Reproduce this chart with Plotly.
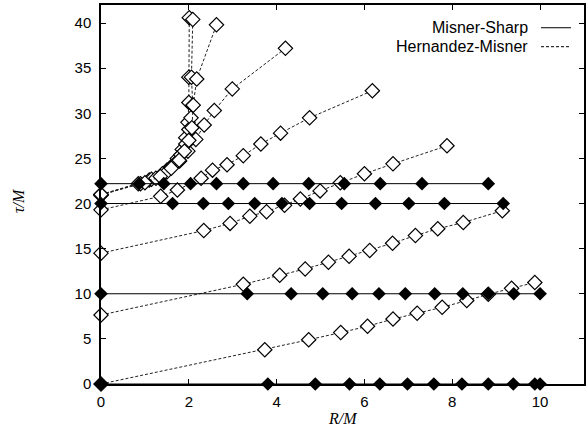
import plotly.graph_objects as go

# Misner-Sharp (filled diamonds, constant tau)
MS_TAU = [0, 10, 20, 22.2]
MS_R = [
    [0, 3.80, 4.88, 5.66, 6.35, 6.98, 7.58, 8.22, 8.82, 9.39, 9.88, 10.0],
    [0, 3.33, 4.33, 5.05, 5.72, 6.33, 6.93, 7.60, 8.24, 8.82, 9.40, 10.0],
    [0, 1.63, 2.33, 2.90, 3.50, 4.12, 4.75, 5.48, 6.25, 7.01, 7.82, 9.16],
    [0, 0.87, 1.43, 2.04, 2.63, 3.24, 3.92, 4.73, 5.54, 6.36, 7.31, 8.82],
]

# Hernandez-Misner (open diamonds)
HM_A_R = [0, 3.73, 4.73, 5.46, 6.07, 6.65, 7.20, 7.77, 8.33, 8.82, 9.35, 9.88]
HM_A_T = [0, 3.8, 4.9, 5.7, 6.4, 7.2, 7.85, 8.5, 9.25, 9.95, 10.6, 11.25]
HM_B_R = [0, 3.24, 4.07, 4.65, 5.18, 5.65, 6.12, 6.64, 7.16, 7.67, 8.25, 9.14]
HM_B_T = [7.65, 11.05, 12.05, 12.75, 13.5, 14.15, 14.8, 15.6, 16.45, 17.2, 17.9, 19.2]
HM_C_R = [0, 2.34, 2.94, 3.39, 3.77, 4.18, 4.54, 4.99, 5.45, 6.0, 6.65, 7.88]
HM_C_T = [14.5, 17.0, 17.8, 18.6, 19.1, 19.8, 20.5, 21.4, 22.3, 23.3, 24.4, 26.4]
HM_D_R = [0, 1.36, 1.74, 2.28, 2.54, 2.87, 3.24, 3.64, 4.09, 4.75, 6.18]
HM_D_T = [19.3, 20.8, 21.5, 22.8, 23.7, 24.3, 25.3, 26.6, 27.8, 29.5, 32.5]
HM_E_R = [0, 1.1, 1.5, 1.79, 1.98, 2.16, 2.35, 2.58, 2.99, 4.2]
HM_E_T = [21.0, 22.6, 23.7, 24.7, 25.8, 27.1, 28.7, 30.3, 32.7, 37.2]
HM_F_R = [0, 0.85, 1.15, 1.4, 1.6, 1.74, 1.85, 1.93, 1.98, 2.0, 2.0, 2.01]
HM_F_T = [20.9, 22.2, 22.7, 23.3, 24.1, 25.0, 26.0, 27.3, 29.0, 31.2, 34.0, 40.6]
HM_G_R = [0, 0.9, 1.25, 1.5, 1.68, 1.82, 1.93, 2.0, 2.05, 2.09, 2.06, 2.09]
HM_G_T = [21.0, 22.2, 22.8, 23.5, 24.4, 25.4, 26.6, 28.2, 29.5, 30.9, 34.0, 40.4]
HM_H_R = [0, 1.0, 1.35, 1.6, 1.78, 1.9, 2.0, 2.07, 2.1, 2.18, 2.63]
HM_H_T = [21.0, 22.3, 23.0, 23.9, 24.8, 25.8, 27.0, 28.4, 30.9, 33.8, 39.8]

HM = [(HM_A_R, HM_A_T), (HM_B_R, HM_B_T), (HM_C_R, HM_C_T), (HM_D_R, HM_D_T),
      (HM_E_R, HM_E_T), (HM_F_R, HM_F_T), (HM_G_R, HM_G_T), (HM_H_R, HM_H_T)]

X_TICKS = [0, 2, 4, 6, 8, 10]
Y_TICKS = [0, 5, 10, 15, 20, 25, 30, 35, 40]
LEGEND = [("Misner-Sharp", "solid"), ("Hernandez-Misner", "3px,2px")]

fig = go.Figure()

for r, t in HM:
    fig.add_trace(go.Scatter(
        x=r, y=t, mode="lines+markers", showlegend=False, cliponaxis=False,
        line=dict(color="#222", width=1, dash="3px,2px"),
        marker=dict(symbol="diamond", size=11, color="white",
                    line=dict(color="black", width=1.2)),
    ))

for tau, rs in zip(MS_TAU, MS_R):
    fig.add_trace(go.Scatter(
        x=rs, y=[tau] * len(rs), mode="lines+markers", showlegend=False,
        cliponaxis=False,
        line=dict(color="black", width=1),
        marker=dict(symbol="diamond", size=10.5, color="black",
                    line=dict(color="black", width=0)),
    ))

font = dict(family="Liberation Sans, Arial, sans-serif", size=15, color="black")
serif = dict(family="Liberation Serif, Times New Roman, serif", size=16, color="black")

axis_common = dict(
    showgrid=False, zeroline=False, showline=True, linecolor="black",
    linewidth=1.5, mirror="allticks", ticks="inside", ticklen=5,
    tickcolor="black", tickfont=font, automargin=False,
)

fig.update_layout(
    width=586, height=432,
    margin=dict(l=101, r=2, t=5, b=48),
    plot_bgcolor="white", paper_bgcolor="white",
    xaxis=dict(range=[0, 11], tickvals=X_TICKS, ticklabelstandoff=3, **axis_common),
    yaxis=dict(range=[0, 42], tickvals=Y_TICKS, ticklabelstandoff=5, **axis_common),
)

# Axis titles
fig.add_annotation(x=0.5, y=-0.09, xref="paper", yref="paper", text="<i>R/M</i>",
                   showarrow=False, xanchor="center", yanchor="middle", font=serif)
fig.add_annotation(x=-0.172, y=0.485, xref="paper", yref="paper", text="<i>τ/M</i>",
                   showarrow=False, xanchor="center", yanchor="middle", textangle=-90,
                   font=serif)

# Legend drawn manually (text left, line sample right)
for i, (name, dash) in enumerate(LEGEND):
    yp = 0.94 - i * 0.05
    fig.add_annotation(x=0.888, y=yp, xref="paper", yref="paper", text=name,
                       showarrow=False, xanchor="right", yanchor="middle",
                       font=dict(family="Liberation Sans, Arial, sans-serif",
                                 size=16, color="black"))
    fig.add_shape(type="line", xref="paper", yref="paper",
                  x0=0.911, x1=0.973, y0=yp, y1=yp,
                  line=dict(color="black", width=1, dash=dash))

fig.write_html("out.html", config={"displayModeBar": False},
               post_script="document.body.style.margin='0';")
